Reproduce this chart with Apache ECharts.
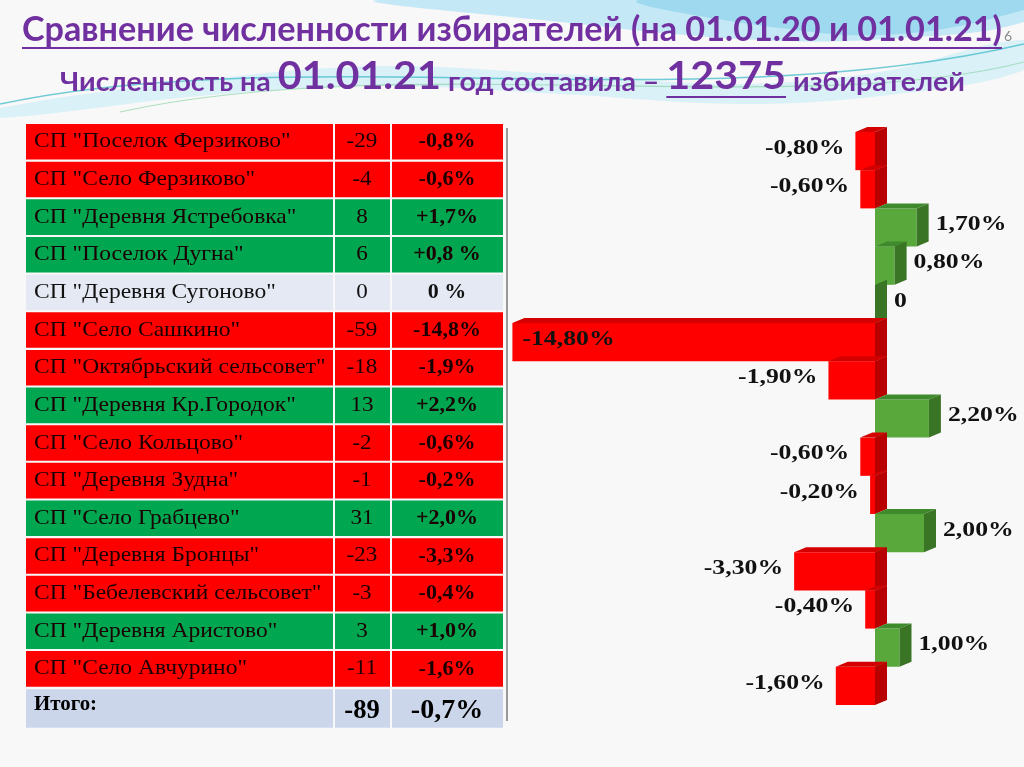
<!DOCTYPE html>
<html><head><meta charset="utf-8">
<script src="https://cdn.jsdelivr.net/npm/echarts@6/dist/echarts.min.js"></script>
<style>html,body{margin:0;padding:0;background:#f8f8f8}#c{width:1024px;height:767px}</style>
</head><body><div id="c"></div>
<script>
// ---- data ----
const names = ['СП "Поселок Ферзиково"','СП "Село Ферзиково"','СП "Деревня Ястребовка"','СП "Поселок Дугна"','СП "Деревня Сугоново"','СП "Село Сашкино"','СП "Октябрьский сельсовет"','СП "Деревня Кр.Городок"','СП "Село Кольцово"','СП "Деревня Зудна"','СП "Село Грабцево"','СП "Деревня Бронцы"','СП "Бебелевский сельсовет"','СП "Деревня Аристово"','СП "Село Авчурино"'];
const changes = [-29,-4,8,6,0,-59,-18,13,-2,-1,31,-23,-3,3,-11];
const pctTexts = ['-0,8%','-0,6%','+1,7%','+0,8 %','0 %','-14,8%','-1,9%','+2,2%','-0,6%','-0,2%','+2,0%','-3,3%','-0,4%','+1,0%','-1,6%'];
const pctValues = [-0.8,-0.6,1.7,0.8,0,-14.8,-1.9,2.2,-0.6,-0.2,2.0,-3.3,-0.4,1.0,-1.6];
const totalLabel = 'Итого:';
const totalChange = -89;
const totalPct = '-0,7%';
const title1 = 'Сравнение численности избирателей (на 01.01.20 и 01.01.21)';
const title2Parts = ['Численность на ','01.01.21',' год составила – ','12375',' избирателей'];
const pageNo = '6';

// ---- helpers ----
const mctx = document.createElement('canvas').getContext('2d');
function tw(text, font){ mctx.font = font; return mctx.measureText(text).width; }

const RED='#ff0000', GREEN='#00a650', NEUTRAL='#e4e9f3', TOTALBG='#ccd6ea';
const SERIF='"Liberation Serif","Times New Roman",serif';
const SANS='Lato, "Open Sans", sans-serif';
const graphics = [];

// background waves
graphics.push({type:'polygon', z:-10, shape:{smooth:0.4, points:[[380,0],[560,22],[760,40],[900,38],[1024,22],[1024,0]]}, style:{fill:'#c4e8f5'}});
graphics.push({type:'polygon', z:-10, shape:{smooth:0.4, points:[[640,0],[780,28],[900,34],[1024,10],[1024,0]]}, style:{fill:'#8fd3ec', opacity:0.7}});
graphics.push({type:'polygon', z:-10, shape:{smooth:0.35, points:[[0,108],[200,80],[380,66],[560,74],[740,84],[880,72],[1024,40],[1024,70],[880,96],[740,104],[560,94],[380,86],[200,96],[0,118]]}, style:{fill:'#d3eff8', opacity:0.8}});
graphics.push({type:'bezierCurve', z:-9, shape:{x1:0,y1:104,cpx1:300,cpy1:40,cpx2:700,cpy2:120,x2:1024,y2:44}, style:{fill:null, stroke:'#38b7c8', lineWidth:1.5, opacity:0.7}});
graphics.push({type:'bezierCurve', z:-9, shape:{x1:120,y1:112,cpx1:400,cpy1:50,cpx2:800,cpy2:120,x2:1024,y2:62}, style:{fill:null, stroke:'#7ccf9a', lineWidth:1.2, opacity:0.6}});

// title line 1
const t1Font = 'bold 35px ' + SANS;
const t1Scale = 980 / tw(title1, t1Font);
graphics.push({type:'text', x:22, y:30, scaleX:t1Scale, style:{text:title1, x:0, y:0, font:t1Font, fill:'#7030a0', verticalAlign:'middle', align:'left'}});
graphics.push({type:'line', shape:{x1:22, y1:48, x2:1002, y2:48}, style:{stroke:'#7030a0', lineWidth:2}});
graphics.push({type:'text', x:1004, y:36, style:{text:pageNo, font:'14px '+SANS, fill:'#8a8a8a', verticalAlign:'middle'}});

// title line 2 (rich)
const smallF = 'bold 27px ' + SANS, bigF = 'bold 39px ' + SANS;
const t2Fonts = [smallF, bigF, smallF, bigF, smallF];
const t2Widths = title2Parts.map((p,i)=>tw(p, t2Fonts[i]));
const t2Scale = 905 / t2Widths.reduce((a,b)=>a+b,0);
graphics.push({type:'text', x:60, y:76, scaleX:t2Scale, style:{
  text: title2Parts.map((p,i)=>'{'+(i%2? 'b':'s')+'|'+p+'}').join(''),
  x:0, y:0, verticalAlign:'middle', align:'left',
  rich:{ s:{font:smallF, fill:'#7030a0', verticalAlign:'bottom'}, b:{font:bigF, fill:'#7030a0', verticalAlign:'bottom'} }
}});
const ulStart = 60 + t2Scale*(t2Widths[0]+t2Widths[1]+t2Widths[2]);
graphics.push({type:'line', shape:{x1:ulStart, y1:97, x2:ulStart + t2Scale*t2Widths[3], y2:97}, style:{stroke:'#7030a0', lineWidth:2}});

// table
const cols = [[26,333],[335,390],[392,503]];
const rowTop0 = 124, pitch = 37.65, rowH = 35.6;
const nameFont = '21px ' + SERIF, numFont = '21px ' + SERIF, pctFont = 'bold 22px ' + SERIF;
function addRow(top, h, bg, cells){
  cols.forEach((c)=>{
    graphics.push({type:'rect', shape:{x:c[0], y:top, width:c[1]-c[0], height:h}, style:{fill:bg}});
  });
  cells.forEach(cell=>graphics.push(cell));
}
names.forEach((n,i)=>{
  const top = rowTop0 + i*pitch;
  const v = changes[i];
  const bg = v<0 ? RED : (v>0 ? GREEN : NEUTRAL);
  const txtCol = v===0 ? '#111' : '#1a0000';
  const cy = top + rowH/2;
  addRow(top, rowH, bg, [
    {type:'text', x:34, y:cy, scaleX:1.12, style:{text:n, x:0, y:0, font:nameFont, fill:txtCol, verticalAlign:'middle', align:'left'}},
    {type:'text', x:362, y:cy, scaleX:1.1, style:{text:String(v), x:0, y:0, font:numFont, fill:txtCol, verticalAlign:'middle', align:'center'}},
    {type:'text', x:447, y:cy, scaleX:1.0, style:{text:pctTexts[i], x:0, y:0, font:pctFont, fill:txtCol, verticalAlign:'middle', align:'center'}}
  ]);
});
{
  const top = rowTop0 + names.length*pitch + 0.5;
  const h = 38.5, cy = top + h/2;
  addRow(top, h, TOTALBG, [
    {type:'text', x:34, y:cy-4, scaleX:0.95, style:{text:totalLabel, x:0, y:0, font:'bold 22px '+SERIF, fill:'#000', verticalAlign:'middle', align:'left'}},
    {type:'text', x:362, y:cy+2, scaleX:0.95, style:{text:String(totalChange), x:0, y:0, font:'bold 28px '+SERIF, fill:'#000', verticalAlign:'middle', align:'center'}},
    {type:'text', x:447, y:cy+2, scaleX:1.0, style:{text:totalPct, x:0, y:0, font:'bold 28px '+SERIF, fill:'#000', verticalAlign:'middle', align:'center'}}
  ]);
}
graphics.push({type:'line', shape:{x1:507, y1:128, x2:507, y2:721}, style:{stroke:'#7a7a7a', lineWidth:1.5}});

// ---- chart ----
const DX = 12, DY = 5;
const colors = {
  neg:{front:'#ff0000', top:'#d40000', side:'#b80000'},
  pos:{front:'#58a83c', top:'#3f8a2c', side:'#3a7526'}
};
function fmt(v){ return v===0 ? '0' : v.toFixed(2).replace('.',',') + '%'; }

function renderItem(params, api){
  const v = api.value(0), idx = api.value(1);
  const p0 = api.coord([0, idx]), pv = api.coord([v, idx]);
  const bh = api.size([0,1])[1];
  const yT = p0[1] - bh/2, yB = yT + bh;
  const xL = Math.min(p0[0], pv[0]), xR = Math.max(p0[0], pv[0]);
  const c = v < 0 ? colors.neg : colors.pos;
  const children = [
    {type:'rect', shape:{x:xL, y:yT, width:xR-xL, height:bh}, style:{fill:c.front}},
    {type:'polygon', shape:{points:[[xL,yT],[xL+DX,yT-DY],[xR+DX,yT-DY],[xR,yT]]}, style:{fill:c.top}},
    {type:'polygon', shape:{points:[[xR,yT],[xR+DX,yT-DY],[xR+DX,yB-DY],[xR,yB]]}, style:{fill:c.side}}
  ];
  const lblFont = 'bold 22px ' + SERIF;
  let lx, align;
  if (xR - xL > 200) { lx = xL + 10; align = 'left'; }
  else if (v < 0) { lx = xL - 11; align = 'right'; }
  else { lx = xR + DX + 7; align = 'left'; }
  children.push({type:'text', x:lx, y:(yT+yB)/2 - 3, scaleX:1.17, z2:10,
    style:{text:fmt(v), x:0, y:0, font:lblFont, fill:'#111', align:align, verticalAlign:'middle'}});
  return {type:'group', children};
}

const chart = echarts.init(document.getElementById('c'), null, {renderer:'canvas'});
chart.setOption({
  backgroundColor:'#f8f8f8',
  animation:false,
  graphic:{elements:graphics},
  grid:{left:507.5, width:490, top:132, height:573},
  xAxis:{type:'value', min:-15, max:5, show:false},
  yAxis:{type:'category', data:names, inverse:true, show:false},
  series:[{
    type:'custom',
    renderItem: renderItem,
    encode:{x:0, y:1},
    data: pctValues.map((v,i)=>[v,i]),
    clip:false
  }]
});
</script></body></html>
